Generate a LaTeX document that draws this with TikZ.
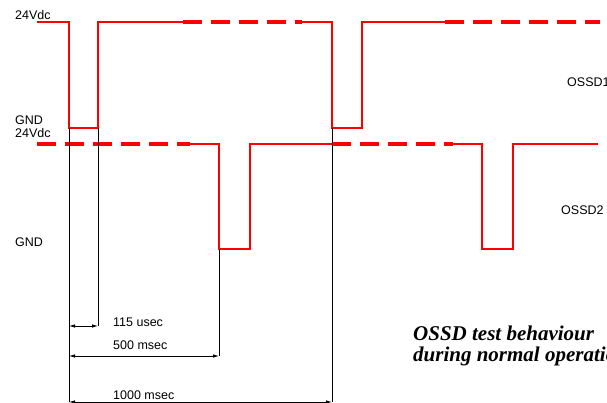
\documentclass[tikz,border=0pt]{standalone}
\usepackage{fontspec}
\setmainfont{Liberation Sans}
\newfontfamily\titlefont{Liberation Serif}
\usetikzlibrary{arrows.meta}

\begin{document}
\begin{tikzpicture}[x=1pt, y=-1pt,
        sig/.style={draw=red, line width=2pt},
        sigdash/.style={draw=red, line width=4pt, dash pattern=on 19pt off 9pt},
        dim/.style={draw=black, line width=0.8pt},
        dimarrow/.style={dim, {Latex[length=6pt,width=3.5pt]}-{Latex[length=6pt,width=3.5pt]}},
        lbl/.style={anchor=west, inner sep=0pt, font=\fontsize{12.5}{14}\selectfont},
        title/.style={anchor=west, inner sep=0pt, font=\titlefont\bfseries\itshape\fontsize{21}{24}\selectfont}]
        \clip (0,0) rectangle (607,403);
        \useasboundingbox (0,0) rectangle (607,403);

        % levels
        \node[lbl] at (15, 15)(hi1){24Vdc};
        \node[lbl] at (15, 120)(lo1){GND};
        \node[lbl] at (15, 133)(hi2){24Vdc};
        \node[lbl] at (15, 242)(lo2){GND};
        \node[lbl] at (567, 82)(ossd1){OSSD1};
        \node[lbl] at (561, 210)(ossd2){OSSD2};

        % OSSD1
        \draw[sig] (37,22) -- (69,22) -- (69,128) -- (98,128) -- (98,22) -- (183,22);
        \draw[sigdash] (183,22) -- (302,22);
        \draw[sig] (302,22) -- (332,22) -- (332,128) -- (362,128) -- (362,22) -- (445,22);
        \draw[sigdash] (445,22) -- (600,22);

        % OSSD2
        \draw[sigdash] (37,144) -- (190,144);
        \draw[sig] (190,144) -- (219,144) -- (219,249) -- (250,249) -- (250,144) -- (332,144);
        \draw[sigdash] (332,144) -- (453,144);
        \draw[sig] (453,144) -- (482,144) -- (482,249) -- (513,249) -- (513,144) -- (598,144);

        % timing
        \coordinate (e0) at (69,128);
        \coordinate (e1) at (98,128);
        \coordinate (e2) at (219,249);
        \coordinate (e3) at (332,128);
        \coordinate (a0) at (69,326);
        \coordinate (a1) at (98,326);
        \coordinate (b0) at (69,356);
        \coordinate (b1) at (219,356);
        \coordinate (c0) at (69,402);
        \coordinate (c1) at (332,402);

        \path[dim]
        (e0)edge(c0)
        (e1)edge(a1)
        (e2)edge(b1)
        (e3)edge(c1)
        ;
        \path[dimarrow]
        (a0)edge(a1)
        (b0)edge(b1)
        (c0)edge(c1)
        ;

        \node[lbl] at (113, 322)(t115){115 usec};
        \node[lbl] at (113, 345)(t500){500 msec};
        \node[lbl] at (113, 395)(t1000){1000 msec};

        \node[title] at (413, 333)(head1){OSSD test behaviour};
        \node[title] at (413, 356)(head2){during normal operation};
    \end{tikzpicture}
\end{document}
